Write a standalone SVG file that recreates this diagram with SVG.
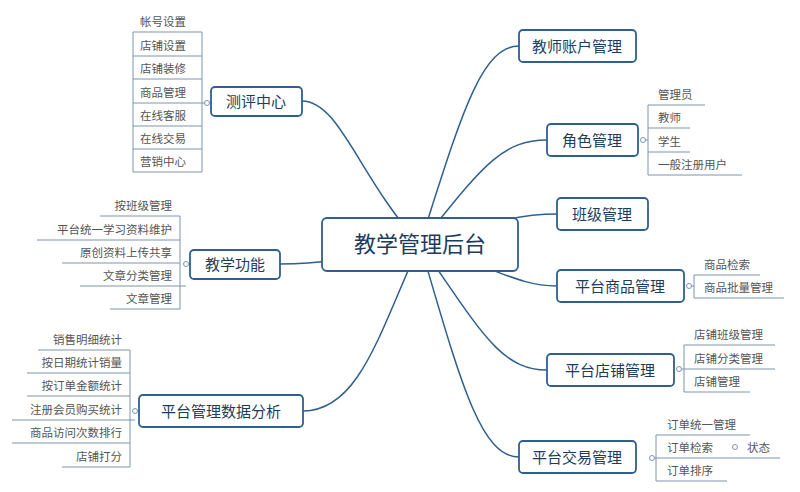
<svg xmlns="http://www.w3.org/2000/svg" width="800" height="492" viewBox="0 0 800 492">
<style>
.c{fill:none;stroke:#2f5f8f;stroke-width:1.5}
.b{fill:none;stroke:#7d95ad;stroke-width:1}
.n rect{fill:#fff;stroke:#2f5f8f;stroke-width:1.8}
.n text{font-family:"Noto Sans CJK SC",sans-serif;font-size:15px;fill:#1d3c5c;text-anchor:middle}
.l{font-family:"Noto Sans CJK SC",sans-serif;font-size:11.5px;fill:#555}
.r{text-anchor:end}
.o{fill:#fff;stroke:#7d95ad;stroke-width:1}
</style>
<rect width="800" height="492" fill="#fff"/>
<g id="connectors">
<path class="c" d="M420,244 C360,180 340,101 302,101"/>
<path class="c" d="M420,244 C340,260 320,264 280,264"/>
<path class="c" d="M420,244 C380,330 360,411 303,411"/>
<path class="c" d="M420,244 C460,120 480,46 519,46"/>
<path class="c" d="M420,244 C480,170 500,140 547,140"/>
<path class="c" d="M420,244 C500,220 520,214 557,214"/>
<path class="c" d="M420,244 C500,270 520,286 557,286"/>
<path class="c" d="M420,244 C480,330 500,370 547,370"/>
<path class="c" d="M420,244 C460,380 480,457 519,457"/>
</g>
<g id="center" class="n"><rect x="322" y="218" width="196" height="53" rx="5"/><text x="420" y="252" style="font-size:22px">教学管理后台</text></g>

<g id="n1" class="n"><rect x="211" y="87" width="91" height="29" rx="4"/><text x="256" y="107">测评中心</text></g>
<g id="n1l">
<path class="b" d="M202,32 V172 M133,32 V172 M133,32 H202 M133,56 H202 M133,79 H202 M133,103 H207 M133,126 H202 M133,149 H202 M133,172 H202"/>
<circle class="o" cx="207" cy="103" r="2.5"/>
<text class="l" x="140" y="26">帐号设置</text><text class="l" x="140" y="50">店铺设置</text><text class="l" x="140" y="73">店铺装修</text><text class="l" x="140" y="97">商品管理</text><text class="l" x="140" y="120">在线客服</text><text class="l" x="140" y="143">在线交易</text><text class="l" x="140" y="166">营销中心</text>
</g>

<g id="n2" class="n"><rect x="190" y="250" width="90" height="29" rx="4"/><text x="235" y="270">教学功能</text></g>
<g id="n2l">
<path class="b" d="M180,216 V309 M100,216 H180 M37,240 H180 M62,263 H180 M80,286 H186 M110,309 H180"/>
<circle class="o" cx="186" cy="264" r="2.5"/>
<text class="l r" x="172" y="210">按班级管理</text><text class="l r" x="172" y="234">平台统一学习资料维护</text><text class="l r" x="172" y="257">原创资料上传共享</text><text class="l r" x="172" y="280">文章分类管理</text><text class="l r" x="172" y="303">文章管理</text>
</g>

<g id="n3" class="n"><rect x="139" y="395" width="164" height="32" rx="4"/><text x="221" y="417">平台管理数据分析</text></g>
<g id="n3l">
<path class="b" d="M130,350 V467 M38,350 H130 M27,373 H130 M27,396 H130 M12,420 H135 M12,443 H130 M62,467 H130"/>
<circle class="o" cx="135" cy="411" r="2.5"/>
<text class="l r" x="122" y="344">销售明细统计</text><text class="l r" x="122" y="367">按日期统计销量</text><text class="l r" x="122" y="390">按订单金额统计</text><text class="l r" x="122" y="414">注册会员购买统计</text><text class="l r" x="122" y="437">商品访问次数排行</text><text class="l r" x="122" y="461">店铺打分</text>
</g>

<g id="n4" class="n"><rect x="519" y="30" width="117" height="32" rx="4"/><text x="577" y="52">教师账户管理</text></g>

<g id="n5" class="n"><rect x="547" y="124" width="91" height="32" rx="4"/><text x="592" y="146">角色管理</text></g>
<g id="n5l">
<path class="b" d="M648,105 V175 M648,105 H705 M648,128 H690 M648,152 H690 M648,175 H742 M643,140 H648"/>
<circle class="o" cx="643" cy="140" r="2.5"/>
<text class="l" x="658" y="99">管理员</text><text class="l" x="658" y="122">教师</text><text class="l" x="658" y="146">学生</text><text class="l" x="658" y="169">一般注册用户</text>
</g>

<g id="n6" class="n"><rect x="557" y="198" width="91" height="32" rx="4"/><text x="602" y="220">班级管理</text></g>

<g id="n7" class="n"><rect x="557" y="270" width="127" height="32" rx="4"/><text x="620" y="292">平台商品管理</text></g>
<g id="n7l">
<path class="b" d="M694,275 V298 M694,275 H760 M694,298 H784 M689,286 H694"/>
<circle class="o" cx="689" cy="286" r="2.5"/>
<text class="l" x="704" y="269">商品检索</text><text class="l" x="704" y="292">商品批量管理</text>
</g>

<g id="n8" class="n"><rect x="547" y="354" width="127" height="32" rx="4"/><text x="610" y="376">平台店铺管理</text></g>
<g id="n8l">
<path class="b" d="M684,345 V392 M684,345 H775 M684,369 H775 M684,392 H750 M679,369 H684"/>
<circle class="o" cx="679" cy="369" r="2.5"/>
<text class="l" x="694" y="339">店铺班级管理</text><text class="l" x="694" y="363">店铺分类管理</text><text class="l" x="694" y="386">店铺管理</text>
</g>

<g id="n9" class="n"><rect x="519" y="441" width="117" height="32" rx="4"/><text x="577" y="463">平台交易管理</text></g>
<g id="n9l">
<path class="b" d="M656,435 V481 M656,435 H750 M650,458 H780 M656,481 H727"/>
<circle class="o" cx="652" cy="458" r="2.5"/>
<circle class="o" cx="735" cy="447" r="2.5"/>
<text class="l" x="667" y="429">订单统一管理</text><text class="l" x="667" y="452">订单检索</text><text class="l" x="747" y="452">状态</text><text class="l" x="667" y="475">订单排序</text>
</g>
</svg>
